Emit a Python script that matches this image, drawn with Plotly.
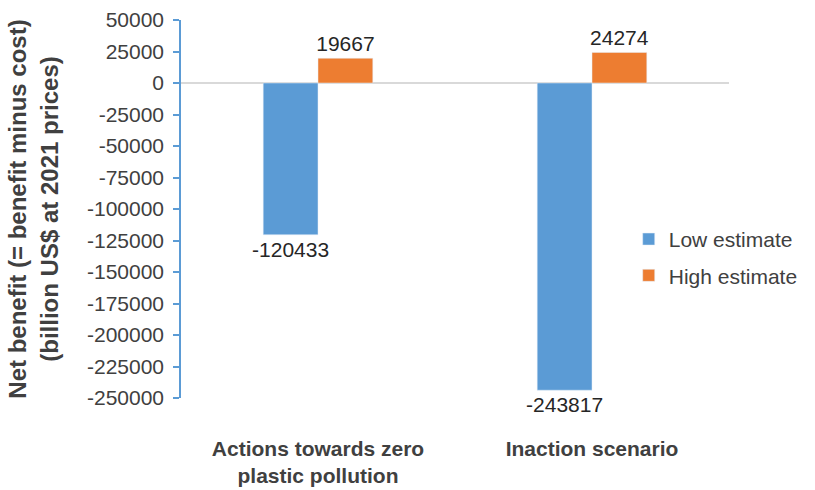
import plotly.graph_objects as go

categories = ["Actions towards zero<br>plastic pollution", "Inaction scenario"]
low_estimate = [-120433, -243817]
high_estimate = [19667, 24274]
tick_values = [50000, 25000, 0, -25000, -50000, -75000, -100000, -125000,
               -150000, -175000, -200000, -225000, -250000]
tick_labels = [str(v) for v in tick_values]

font_family = "Liberation Sans, Arial, sans-serif"
text_color = "#404040"
label_color = "#262626"

fig = go.Figure()
fig.add_trace(go.Bar(
    name="Low estimate", x=categories, y=low_estimate,
    marker=dict(color="#5B9BD5"), legendgroup="low",
    text=[str(v) for v in low_estimate], textposition="outside",
    constraintext="none",
    textfont=dict(size=21, color=label_color, family=font_family),
    cliponaxis=False,
))
fig.add_trace(go.Bar(
    name="High estimate", x=categories, y=high_estimate,
    marker=dict(color="#ED7D31"), legendgroup="high",
    text=[str(v) for v in high_estimate], textposition="outside",
    constraintext="none",
    textfont=dict(size=21, color=label_color, family=font_family),
    cliponaxis=False,
))

fig.update_layout(
    width=815, height=490,
    margin=dict(l=181, r=70, t=20, b=92),
    paper_bgcolor="white", plot_bgcolor="white",
    barmode="group", bargap=0.6, bargroupgap=0,
    font=dict(family=font_family, size=21, color=text_color),
    showlegend=True,
    legend=dict(x=0.817, y=0.372, xanchor="left", yanchor="middle",
                font=dict(size=21, color=text_color),
                traceorder="grouped",
                itemwidth=30, tracegroupgap=6, bgcolor="rgba(0,0,0,0)"),
)
fig.update_yaxes(
    range=[-250000, 50000], tickvals=tick_values, ticktext=tick_labels,
    showgrid=False, automargin=False,
    showline=True, linecolor="#5B9BD5", linewidth=1.5,
    ticks="outside", tickcolor="#5B9BD5", ticklen=6, tickwidth=1.5,
    ticklabelstandoff=5,
    zeroline=True, zerolinecolor="#D9D9D9", zerolinewidth=2,
    tickfont=dict(size=21, color=text_color),
    title=dict(text="<b>Net benefit (= benefit minus cost)<br>(billion US$ at 2021 prices)</b>",
               font=dict(size=24, color=text_color), standoff=22),
)
fig.update_xaxes(
    showline=False, showgrid=False, ticks="", automargin=False,
    tickfont=dict(size=21, color=text_color),
    ticklabelstandoff=36,
    tickprefix="<b>", ticksuffix="</b>",
)

fig.write_html(
    "out.html",
    config={"displayModeBar": False},
    post_script="document.body.style.margin='0';document.body.style.overflow='hidden';",
)
